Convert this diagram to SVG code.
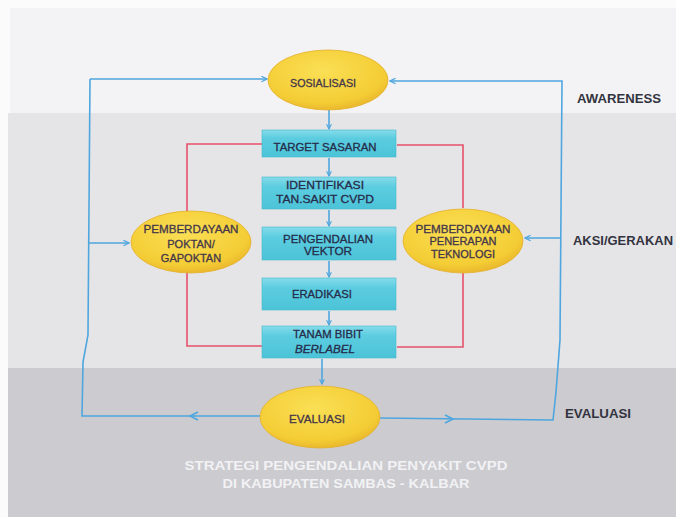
<svg xmlns="http://www.w3.org/2000/svg" width="676" height="517" viewBox="0 0 676 517">
<defs>
<radialGradient id="yel" cx="0.45" cy="0.35" r="0.7">
<stop offset="0" stop-color="#fadf55"/>
<stop offset="0.75" stop-color="#f4cd35"/>
<stop offset="1" stop-color="#e6b02a"/>
</radialGradient>
<linearGradient id="cy" x1="0" y1="0" x2="0" y2="1">
<stop offset="0" stop-color="#86dcea"/>
<stop offset="0.3" stop-color="#5ccde0"/>
<stop offset="1" stop-color="#4cc3d8"/>
</linearGradient>
<marker id="ah" viewBox="0 0 10 10" refX="9" refY="5" markerWidth="7" markerHeight="7" orient="auto" markerUnits="userSpaceOnUse">
<path d="M1,1 L9,5 L1,9" fill="none" stroke="#4fa6de" stroke-width="1.8"/>
</marker>
<marker id="ahs" viewBox="0 0 10 10" refX="9" refY="5" markerWidth="6" markerHeight="6" orient="auto" markerUnits="userSpaceOnUse">
<path d="M1,1 L9,5 L1,9" fill="none" stroke="#4fa6de" stroke-width="1.8"/>
</marker>
</defs>
<style>
.bl{fill:none;stroke:#4fa6de;stroke-width:1.6}
.rd{fill:none;stroke:#e8506a;stroke-width:1.6}
.ell{fill:url(#yel);stroke:#e4b02c;stroke-width:0.8}
.box{fill:url(#cy);stroke:#45b8cc;stroke-width:0.6}
.t{font-family:"Liberation Sans",Arial,sans-serif;font-size:11px;text-anchor:middle;stroke-width:0.3}
.et{fill:#45364a;stroke:#45364a}
.bt{fill:#262c4a;stroke:#262c4a}
.lab{font-family:"Liberation Sans",Arial,sans-serif;font-size:12.5px;font-weight:bold;fill:#33333f}
.ttl{font-family:"Liberation Sans",Arial,sans-serif;font-size:12.5px;font-weight:bold;fill:#f2f2f4;text-anchor:middle}
</style>

<!-- background -->
<rect x="0" y="0" width="676" height="517" fill="#fbfbfc"/>
<rect x="10" y="8" width="666" height="106" fill="#f3f3f5"/>
<rect x="8" y="113" width="668" height="256" fill="#e5e5e8"/>
<rect x="8" y="368" width="668" height="149" fill="#cbcbd0"/>

<!-- connectors -->
<g id="connectors">
<path class="bl" d="M90,79 L267,79" marker-end="url(#ah)"/>
<path class="bl" d="M90,79 L88,335 L83,362 L82,416 L261,416"/>
<path class="bl" d="M380,418 L553,420 L556,392 L560,340 L562,81 L390,81" marker-end="url(#ah)"/>
<path class="bl" d="M198,412 L190,416 L198,420"/>
<path class="bl" d="M445,415 L453,419 L445,423"/>
<path class="bl" d="M89,243 L129,243" marker-end="url(#ah)"/>
<path class="bl" d="M560,238 L525,238" marker-end="url(#ah)"/>
<path class="bl" d="M329,110 L329,129" marker-end="url(#ahs)"/>
<path class="bl" d="M329,158 L329,176" marker-end="url(#ahs)"/>
<path class="bl" d="M329,210 L329,226" marker-end="url(#ahs)"/>
<path class="bl" d="M329,261 L329,277" marker-end="url(#ahs)"/>
<path class="bl" d="M329,311 L329,325" marker-end="url(#ahs)"/>
<path class="bl" d="M322,359 L322,384" marker-end="url(#ahs)"/>
<path class="rd" d="M262,144 L187,144 L187,346 L262,346"/>
<path class="rd" d="M397,145 L463,145 L463,208"/>
<path class="rd" d="M463,273 L463,347 L397,347"/>
</g>

<!-- nodes -->
<g id="sosialisasi">
<ellipse class="ell" cx="328" cy="80" rx="60" ry="30"/>
<text class="t et" x="323" y="87" textLength="66" lengthAdjust="spacingAndGlyphs">SOSIALISASI</text>
</g>

<g id="target-sasaran">
<rect class="box" x="262" y="130" width="134" height="27"/>
<text class="t bt" x="325" y="151" textLength="103" lengthAdjust="spacingAndGlyphs">TARGET SASARAN</text>
</g>

<g id="identifikasi">
<rect class="box" x="262" y="177" width="134" height="32"/>
<text class="t bt" x="325" y="189" textLength="78" lengthAdjust="spacingAndGlyphs">IDENTIFIKASI</text>
<text class="t bt" x="325" y="203" textLength="98" lengthAdjust="spacingAndGlyphs">TAN.SAKIT CVPD</text>
</g>

<g id="pengendalian">
<rect class="box" x="262" y="227" width="134" height="33"/>
<text class="t bt" x="328" y="243" textLength="90" lengthAdjust="spacingAndGlyphs">PENGENDALIAN</text>
<text class="t bt" x="328" y="255" textLength="48" lengthAdjust="spacingAndGlyphs">VEKTOR</text>
</g>

<g id="eradikasi">
<rect class="box" x="262" y="278" width="134" height="32"/>
<text class="t bt" x="322" y="298" textLength="60" lengthAdjust="spacingAndGlyphs">ERADIKASI</text>
</g>

<g id="tanam-bibit">
<rect class="box" x="262" y="326" width="134" height="32"/>
<text class="t bt" x="328" y="338" textLength="70" lengthAdjust="spacingAndGlyphs">TANAM BIBIT</text>
<text class="t bt" x="325" y="353" font-style="italic" textLength="60" lengthAdjust="spacingAndGlyphs">BERLABEL</text>
</g>

<g id="poktan">
<ellipse class="ell" cx="191" cy="242" rx="60" ry="31"/>
<text class="t et" x="191" y="233" textLength="95" lengthAdjust="spacingAndGlyphs">PEMBERDAYAAN</text>
<text class="t et" x="191" y="248">POKTAN/</text>
<text class="t et" x="191" y="262">GAPOKTAN</text>
</g>

<g id="teknologi">
<ellipse class="ell" cx="463" cy="241" rx="60" ry="32"/>
<text class="t et" x="463" y="233" textLength="95" lengthAdjust="spacingAndGlyphs">PEMBERDAYAAN</text>
<text class="t et" x="463" y="245">PENERAPAN</text>
<text class="t et" x="463" y="258">TEKNOLOGI</text>
</g>

<g id="evaluasi">
<ellipse class="ell" cx="320" cy="417" rx="60" ry="31"/>
<text class="t et" x="317" y="423" textLength="56" lengthAdjust="spacingAndGlyphs">EVALUASI</text>
</g>

<!-- side labels -->
<g id="labels">
<text class="lab" x="577" y="103" textLength="84" lengthAdjust="spacingAndGlyphs">AWARENESS</text>
<text class="lab" x="573" y="245" textLength="100" lengthAdjust="spacingAndGlyphs">AKSI/GERAKAN</text>
<text class="lab" x="565" y="418" textLength="66" lengthAdjust="spacingAndGlyphs">EVALUASI</text>
<text class="ttl" x="346" y="470" textLength="323" lengthAdjust="spacingAndGlyphs">STRATEGI PENGENDALIAN PENYAKIT CVPD</text>
<text class="ttl" x="346" y="488" textLength="247" lengthAdjust="spacingAndGlyphs">DI KABUPATEN SAMBAS - KALBAR</text>
</g>
</svg>
